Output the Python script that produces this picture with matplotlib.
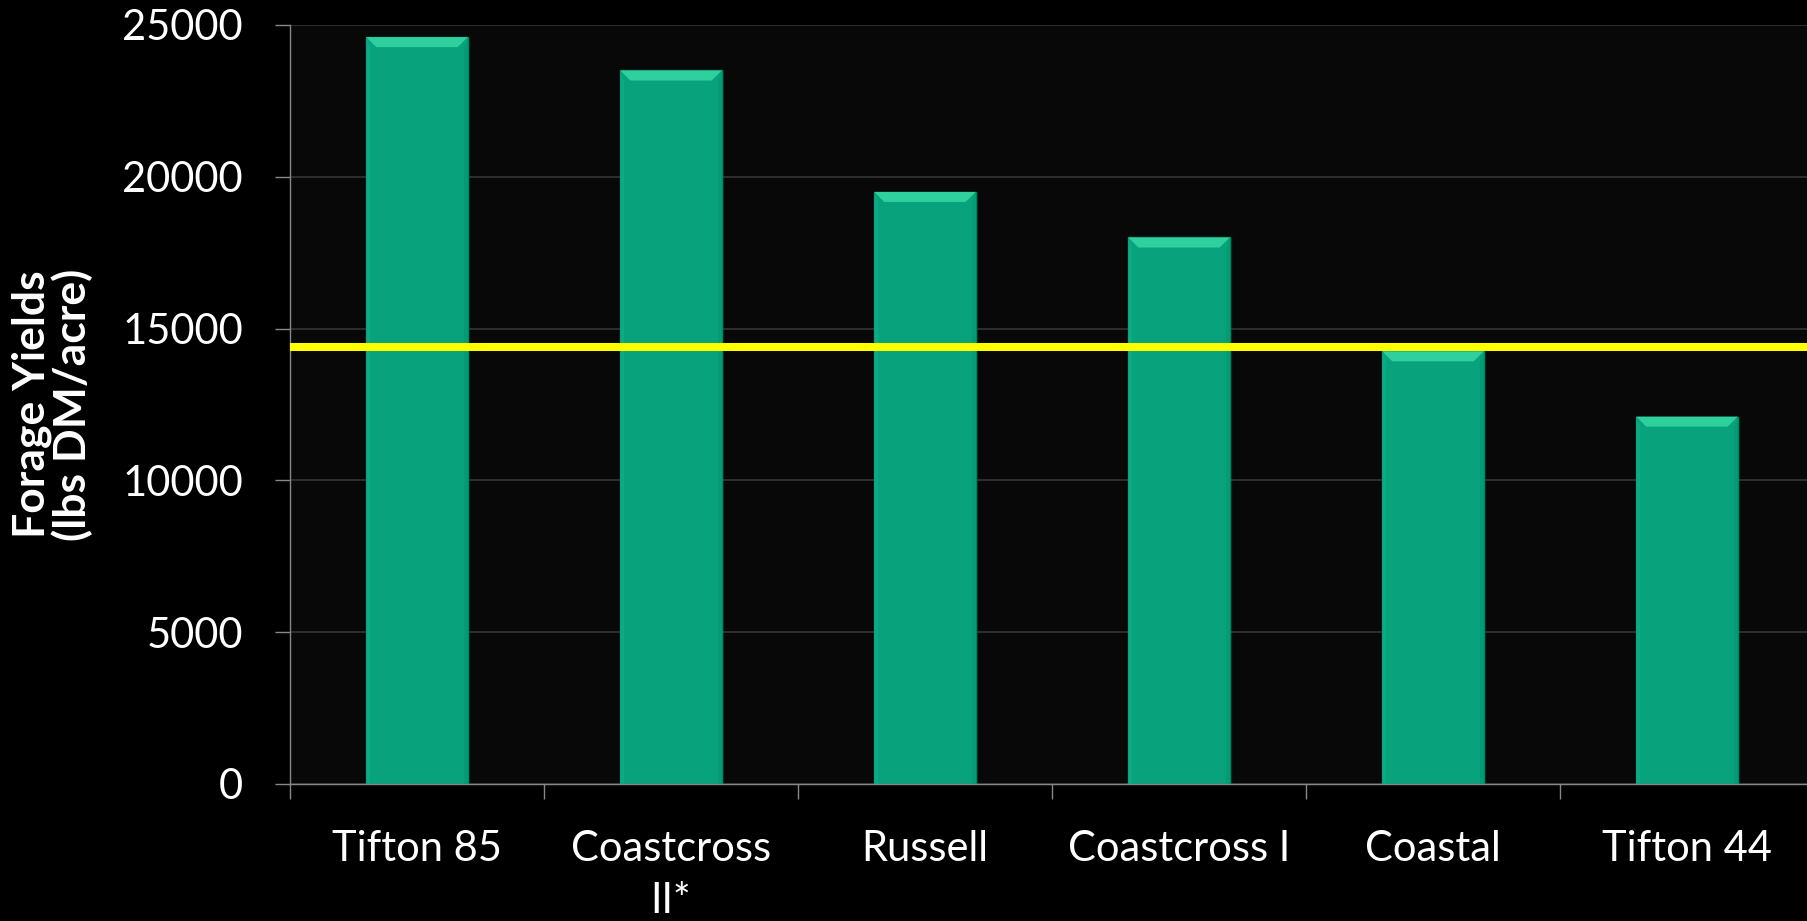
import numpy as np
import matplotlib.pyplot as plt
from matplotlib.patches import Polygon

# Forage yields of bermudagrass varieties
varieties = ['Tifton 85', 'Coastcross\nII*', 'Russell', 'Coastcross I', 'Coastal', 'Tifton 44']
yields = [24600, 23500, 19500, 18000, 14250, 12100]
reference_level = 14400  # yellow reference line

plt.rcParams['font.family'] = ['Lato', 'DejaVu Sans']

fig = plt.figure(figsize=(18.08, 9.21), dpi=100, facecolor='black')
ax = fig.add_axes([0.1604, 0.1488, 0.8429, 0.8241])
ax.set_facecolor('#080808')

x = np.arange(len(varieties))
width = 0.4
bar_color = '#08a37c'
ax.bar(x, yields, width=width, color=bar_color, edgecolor='#06805f', linewidth=1.0, zorder=2)

# bevel highlight on top and edges of each bar
dx, dy = 0.04, 330
for xi, yv in zip(x, yields):
    ax.add_patch(Polygon([[xi - width / 2, yv], [xi + width / 2, yv],
                          [xi + width / 2 - dx, yv - dy], [xi - width / 2 + dx, yv - dy]],
                         closed=True, facecolor='#2fcf9e', edgecolor='none', zorder=3))
    ax.add_patch(Polygon([[xi - width / 2, yv], [xi - width / 2 + 0.015, yv - dy],
                          [xi - width / 2 + 0.015, 0], [xi - width / 2, 0]],
                         closed=True, facecolor='#0bab83', edgecolor='none', zorder=3))
    ax.add_patch(Polygon([[xi + width / 2, yv], [xi + width / 2 - 0.015, yv - dy],
                          [xi + width / 2 - 0.015, 0], [xi + width / 2, 0]],
                         closed=True, facecolor='#079b75', edgecolor='none', zorder=3))

ax.axhline(reference_level, color='#ffff00', lw=5.8, zorder=5, solid_capstyle='butt')

ax.set_xlim(-0.5, len(varieties) - 0.5)
ax.set_ylim(0, 25000)
ax.set_yticks(np.arange(0, 25001, 5000))
ax.yaxis.grid(True, color='#353535', lw=1.2, zorder=0)
ax.set_axisbelow(True)

# category ticks sit between bars
ax.set_xticks(np.arange(len(varieties)) - 0.5)
ax.set_xticklabels([])
ax.set_xticks(x, minor=True)
ax.set_xticklabels(varieties, minor=True, fontsize=30, color='white', linespacing=1.45)
ax.tick_params(axis='x', which='minor', length=0, pad=33)
ax.tick_params(axis='x', which='major', length=10.8, width=1.0, color='#888888', direction='out')
ax.tick_params(axis='y', length=10.8, width=1.0, color='#888888', direction='out',
               labelsize=30, labelcolor='white', pad=23)

for side in ['top', 'right']:
    ax.spines[side].set_visible(False)
for side in ['left', 'bottom']:
    ax.spines[side].set_color('#888888')
    ax.spines[side].set_linewidth(1.0)

ax.set_ylabel('Forage Yields\n(lbs DM/acre)', fontsize=32, fontweight='bold', color='white',
              linespacing=1.0)
ax.yaxis.set_label_coords(-0.129, 0.5)

fig.savefig('out.png', dpi=100, facecolor='black')
